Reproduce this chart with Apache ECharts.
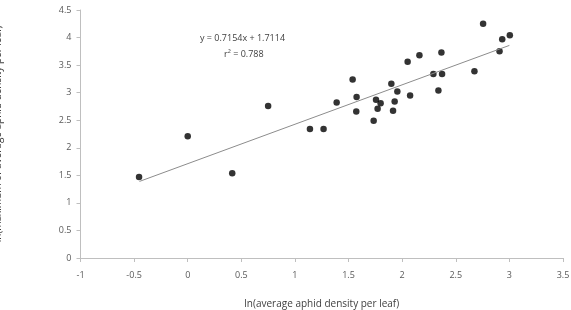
<!DOCTYPE html>
<html>
<head>
<meta charset="utf-8">
<script src="https://cdn.jsdelivr.net/npm/echarts@6/dist/echarts.min.js"></script>
<style>
html,body{margin:0;padding:0;background:#fff;}
#chart{width:571px;height:310px;}
</style>
</head>
<body>
<div id="chart"></div>
<script>
// ln(average aphid density per leaf)
var xVals = [-0.454, 0.0, 0.415, 0.75, 1.14, 1.267, 1.389, 1.538, 1.575, 1.572, 1.734, 1.756, 1.771, 1.799,
	1.899, 1.930, 1.915, 1.955, 2.051, 2.074, 2.161, 2.291, 2.338, 2.366, 2.372, 2.674, 2.755, 2.908, 2.933, 3.004];
// ln(maximum of average aphid density per leaf)
var yVals = [1.47, 2.21, 1.54, 2.76, 2.34, 2.34, 2.82, 3.24, 2.92, 2.66, 2.49, 2.87, 2.71, 2.81,
	3.16, 2.84, 2.67, 3.02, 3.56, 2.95, 3.68, 3.34, 3.04, 3.73, 3.34, 3.39, 4.25, 3.75, 3.97, 4.04];
// linear trend line
var slope = 0.7154, intercept = 1.7114;
var fitX = [-0.45, 3.0];

var myChart = echarts.init(document.getElementById('chart'));

var points = [];
for (var i = 0; i < xVals.length; i++) points.push([xVals[i], yVals[i]]);
var fitLine = [];
for (var j = 0; j < fitX.length; j++) fitLine.push([fitX[j], slope * fitX[j] + intercept]);

var axisText = {color: '#595959', fontSize: 9, fontFamily: 'Open Sans'};
var option = {
	animation: false,
	textStyle: {fontFamily: 'Open Sans'},
	grid: {left: 80.5, right: 8, top: 10, bottom: 52, containLabel: false, outerBoundsMode: 'none'},
	xAxis: {
		type: 'value', min: -1, max: 3.5, interval: 0.5,
		name: 'ln(average aphid density per leaf)',
		nameLocation: 'middle', nameGap: 41,
		nameTextStyle: {color: '#404040', fontSize: 10},
		axisLine: {onZero: false, lineStyle: {color: '#bfbfbf'}},
		axisTick: {show: true, length: 4, lineStyle: {color: '#bfbfbf'}},
		axisLabel: Object.assign({margin: 13}, axisText),
		splitLine: {show: false}
	},
	yAxis: {
		type: 'value', min: 0, max: 4.5, interval: 0.5,
		name: 'ln(maximum of average aphid density per leaf)',
		nameLocation: 'middle', nameGap: 77,
		nameTextStyle: {color: '#404040', fontSize: 10},
		axisLine: {show: true, onZero: false, lineStyle: {color: '#bfbfbf'}},
		axisTick: {show: true, length: 4, lineStyle: {color: '#bfbfbf'}},
		axisLabel: Object.assign({margin: 9}, axisText),
		splitLine: {show: false}
	},
	series: [{
		type: 'line',
		data: fitLine,
		symbol: 'none',
		lineStyle: {color: '#8c8c8c', width: 1},
		silent: true
	}, {
		type: 'scatter',
		data: points,
		symbolSize: 6.5,
		itemStyle: {color: '#000'}
	}],
	graphic: [{
		type: 'text', left: 200, top: 34,
		style: {text: 'y = 0.7154x + 1.7114', fill: '#404040', font: '9px "Open Sans"'}
	}, {
		type: 'text', left: 224, top: 50,
		style: {text: 'r² = 0.788', fill: '#404040', font: '9px "Open Sans"'}
	}]
};
myChart.setOption(option);
</script>
</body>
</html>
